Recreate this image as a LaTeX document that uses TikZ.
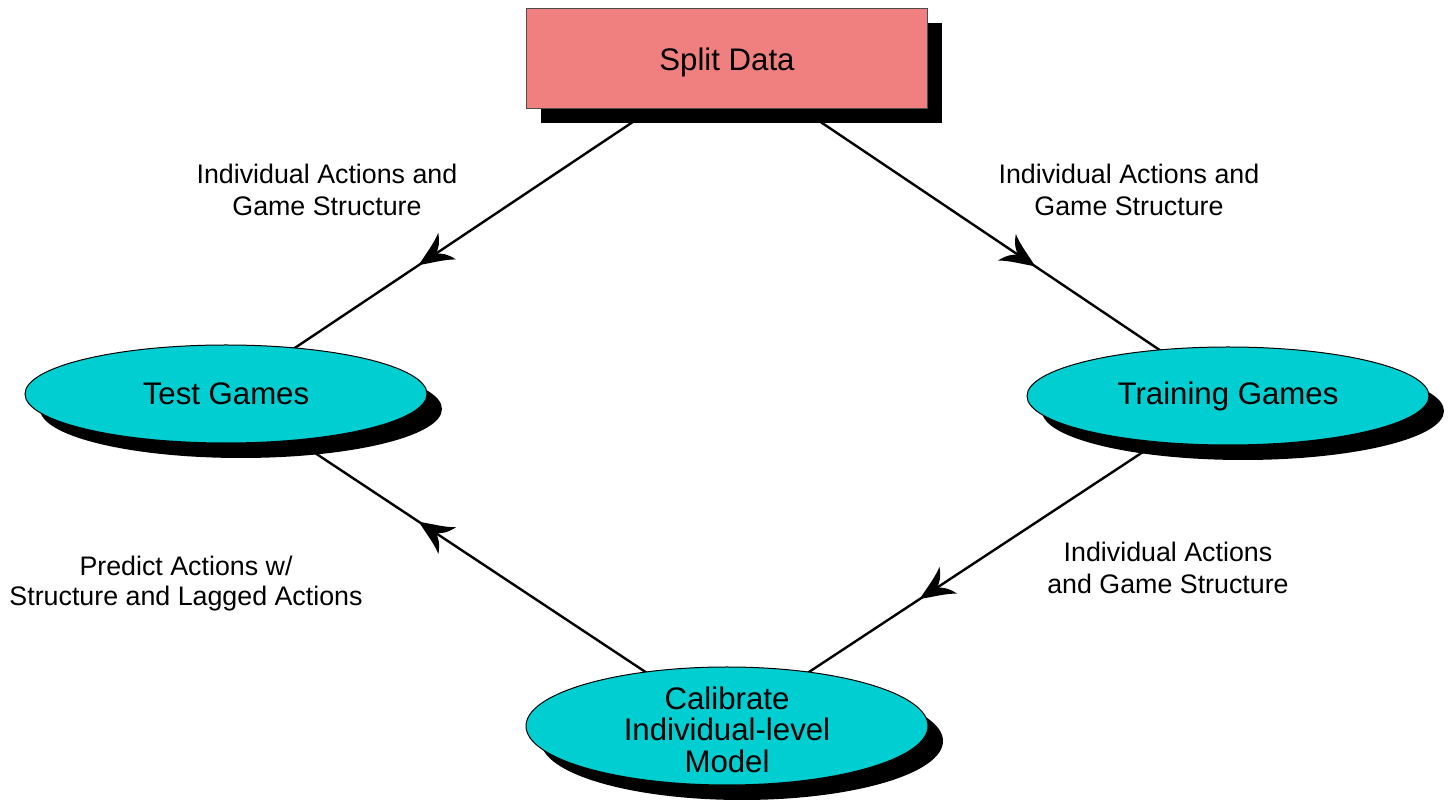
\documentclass[tikz,border=0pt]{standalone}
\usepackage{fontspec}
\setmainfont{Liberation Sans}
\usetikzlibrary{shapes.geometric,shadows,decorations.markings,backgrounds}
\definecolor{splitred}{RGB}{240,128,128}
\definecolor{gamecyan}{RGB}{0,206,209}
\def\flowtip{\fill (0pt,0pt) .. controls (-6pt,2.8pt) and (-12pt,4.6pt) .. (-17pt,8pt) .. controls (-15pt,3.4pt) and (-12.5pt,1pt) .. (-10pt,0pt) .. controls (-12.5pt,-1pt) and (-15pt,-3.4pt) .. (-17pt,-8pt) .. controls (-12pt,-4.6pt) and (-6pt,-2.8pt) .. (0pt,0pt);}
\tikzset{
	datanode/.style={rectangle, draw=black!70, line width=0.5pt, fill=splitred, minimum width=200.5pt, minimum height=50pt, font=\fontsize{15.6}{16}\selectfont, general shadow={shadow xshift=7pt, shadow yshift=-7pt, fill=black}},
	gamenode/.style={ellipse, draw=black, line width=0.5pt, fill=gamecyan, inner sep=0pt, minimum width=201pt, minimum height=49pt, font=\fontsize{15.6}{15.6}\selectfont, align=center, general shadow={shadow xshift=7.5pt, shadow yshift=-7.5pt, fill=black}},
	flowline/.style={line width=1.2pt, postaction={decorate, decoration={markings, mark=at position 0.615 with {\flowtip}}}},
	flowlabel/.style={align=center, font=\fontsize{13.4}{16}\selectfont}
}

\begin{document}
\begin{tikzpicture}[x=0.5pt, y=-0.5pt]
		%%%%% START %%%%%
		\useasboundingbox (0, 0) rectangle (1448, 801);
		
		\node[datanode] (split) at (727, 59) {\rule{0pt}{15pt}Split Data};
		
		\node[gamenode] (test) at (226, 394) {Test Games};
		\node[gamenode] (train) at (1228, 396) {Training Games};
		\node[gamenode, minimum height=59pt, inner ysep=-7pt] (calib) at (727, 726) {\rule{0pt}{15pt}Calibrate\\Individual-level\\Model};
		
		\node[flowlabel] (testlab) at (327, 190) {Individual Actions and\\Game Structure};
		\node[flowlabel] (trainlab) at (1129, 190) {Individual Actions and\\Game Structure};
		\node[flowlabel] (caliblab) at (1168, 568) {Individual Actions\\and Game Structure};
		\node[flowlabel, font=\fontsize{13.4}{15}\selectfont] (predlab) at (186, 584) {Predict Actions w/\\Structure and Lagged Actions};
		
		\begin{pgfonlayer}{background}
			\draw[flowline] (split.center) -- (test.center);
			\draw[flowline] (split.center) -- (train.center);
			\draw[flowline] (train.center) -- (calib.center);
			\draw[flowline] (calib.center) -- (test.center);
		\end{pgfonlayer}
		
		%%%%% END %%%%%
\end{tikzpicture}
\end{document}
